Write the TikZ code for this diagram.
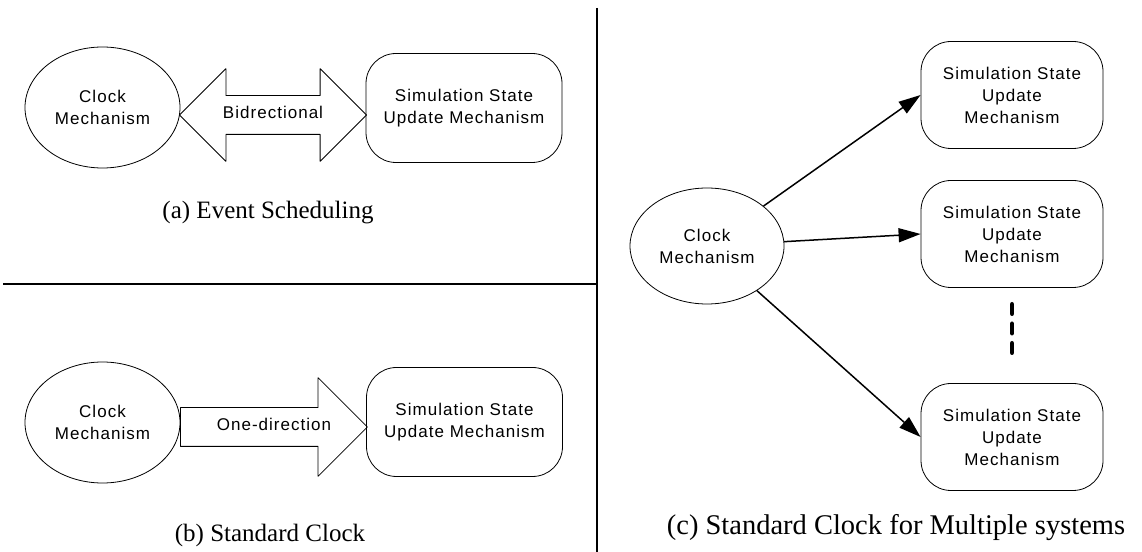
\documentclass[tikz,border=0pt]{standalone}
\usepackage{fontspec}
\setmainfont{Liberation Serif}
\newfontfamily\arialfont[LetterSpace=6]{Liberation Sans}
\usepackage{tikz}
\usetikzlibrary{calc,shapes.geometric,shapes.arrows,arrows.meta}

\begin{document}
\begin{tikzpicture}[>={Triangle[length=22bp,width=14bp]},line join=bevel,
  lbl/.style={font=\arialfont\fontsize{17bp}{22bp}\selectfont,align=center},
  clock/.style={draw,ellipse,lbl,line width=0.8bp,inner sep=0pt,minimum width=155bp,minimum height=121bp},
  update/.style={draw,rectangle,rounded corners=30bp,lbl,line width=0.8bp,minimum width=196bp,minimum height=109bp},
  fat/.style={draw,lbl,line width=0.8bp,inner xsep=0pt,inner ysep=11bp,text height=12bp,text depth=4bp,minimum height=187bp},
  fattext/.style={lbl,inner sep=0pt,text height=12bp,text depth=4bp},
  caption/.style={font=\fontsize{25bp}{30bp}\selectfont},
  divider/.style={line width=1.8bp}]
\useasboundingbox (0,0) rectangle (1142bp,552bp);
%% (a) event scheduling
\node (clkA) at (102.5bp,444.5bp) [clock] {Clock\\Mechanism};
  \node (updA) at (464bp,444bp) [update] {Simulation State\\Update Mechanism};
  \node (bidi) at (273bp,437bp) [fat,double arrow,double arrow head extend=27bp] {Bidrectional};
  \node (capA) at (268bp,339bp) [caption] {(a) Event Scheduling};
%% (b) standard clock
\node (clkB) at (102.5bp,129.5bp) [clock] {Clock\\Mechanism};
  \node (updB) at (464.5bp,130bp) [update] {Simulation State\\Update Mechanism};
  \node (onedir) at (180bp,125bp) [fat,single arrow,anchor=tail,single arrow head extend=30bp] {};
  \node (onedirtxt) at ($(onedir.tail)!0.5!(onedir.tip)$) [fattext] {One-direction};
  \node (capB) at (270bp,17bp) [caption] {(b) Standard Clock};
%% (c) one clock, several systems
\node (clkC) at (707bp,306bp) [clock,minimum width=154bp,minimum height=116bp] {Clock\\Mechanism};
  \node (updC1) at (1012bp,457bp) [update,minimum width=182bp,minimum height=107bp] {Simulation State\\Update\\Mechanism};
  \node (updC2) at (1012bp,318bp) [update,minimum width=182bp,minimum height=107bp] {Simulation State\\Update\\Mechanism};
  \node (updC3) at (1012bp,115bp) [update,minimum width=182bp,minimum height=107bp] {Simulation State\\Update\\Mechanism};
  \node (capC) at (896bp,24bp) [caption,font=\fontsize{28.5bp}{34bp}\selectfont] {(c) Standard Clock for Multiple systems};
  \draw [->,line width=1.5bp] (clkC) -- (updC1.west);
  \draw [->,line width=1.5bp] (clkC) -- (updC2.west);
  \draw [->,line width=1.5bp] (clkC) -- (updC3.west);
  \coordinate (more1) at (1012bp,247.75bp);
  \coordinate (more2) at (1012bp,199.25bp);
  \draw [line width=4.5bp,line cap=round,dash pattern=on 9.5bp off 10bp] (more1) -- (more2);
%
\draw [divider] (597bp,544bp) -- (597bp,0bp);
\draw [divider] (3bp,268bp) -- (597bp,268bp);
\end{tikzpicture}
\end{document}
